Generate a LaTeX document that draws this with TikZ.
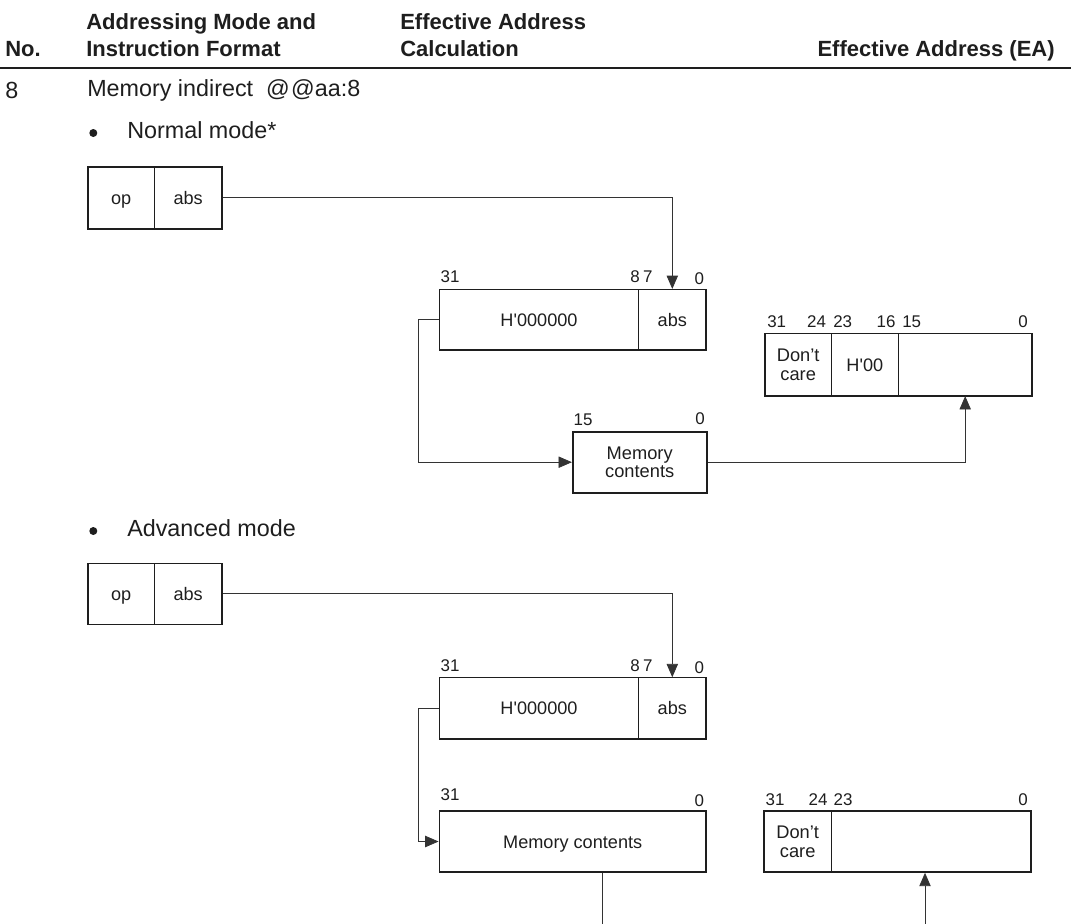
\documentclass[tikz,border=0pt]{standalone}
\usepackage{fontspec}
\setmainfont{Liberation Sans}[Ligatures=TeXOff]
\usetikzlibrary{arrows.meta}
\definecolor{ink}{HTML}{1E1E1E}
\definecolor{wire}{HTML}{333333}
\begin{document}
\begin{tikzpicture}[x=0.75pt,y=-0.75pt,
  hdr/.style={font=\bfseries\fontsize{16.5}{19}\selectfont, inner sep=0pt, anchor=base west, text=ink},
  body/.style={font=\fontsize{17.5}{20}\selectfont, inner sep=0pt, anchor=west, text=ink},
  cell/.style={draw=ink, line width=0.6pt, inner sep=0pt, font=\fontsize{13.6}{15}\selectfont, text height=9.8pt, text depth=0pt, text=ink},
  twoline/.style={draw=ink, line width=0.6pt, inner sep=0pt, font=\fontsize{13.7}{14.3}\selectfont, align=center, text=ink},
  outer/.style={draw=ink, line width=1.2pt, inner sep=0pt},
  bit/.style={font=\fontsize{12.7}{14}\selectfont, inner sep=0pt, text=ink},
  dot/.style={circle, fill=ink, inner sep=0pt, minimum size=6pt},
  wireline/.style={draw=wire, line width=0.6pt},
  arr/.style={wireline, -{Triangle[length=10pt,width=8.5pt]}}
]
\useasboundingbox (0,0) rectangle (1071,924);

% header
\node[hdr] (hno) at (5,57) {No.};
\node[hdr] (hmode1) at (86,30) {Addressing Mode and};
\node[hdr] (hmode2) at (86,57) {Instruction Format};
\node[hdr] (hcalc1) at (400,30) {Effective Address};
\node[hdr] (hcalc2) at (400,57) {Calculation};
\node[hdr, anchor=base east] (hea) at (1055,57) {Effective Address (EA)};
\draw[ink, line width=1.5pt] (0,68) coordinate (rl) -- (1071,68) coordinate (rr);

\node[body] (num) at (5,90) {8};
\node[body] (title) at (87,90) {Memory indirect\ \ @\kern1pt@aa:8};
\node[dot] (b1) at (93.3,133) {};
\node[body] (nmode) at (127,130) {Normal mode*};
\node[dot] (b2) at (93.3,531) {};
\node[body] (amode) at (127,528) {Advanced mode};

% ---------- Normal mode ----------
\node[cell, minimum width=67*0.75pt, minimum height=62*0.75pt] (op1) at (121.2,197.7) {op};
\node[cell, minimum width=67*0.75pt, minimum height=62*0.75pt] (abs1) at (188.2,197.7) {abs};
\node[outer, minimum width=134*0.75pt, minimum height=62*0.75pt] (ins1) at (154.7,197.7) {};

\node[cell, minimum width=199.4*0.75pt, minimum height=60.7*0.75pt] (r1h) at (539,319.7) {H'000000};
\node[cell, minimum width=67.3*0.75pt, minimum height=60.7*0.75pt] (r1a) at (672.3,319.7) {abs};
\node[outer, minimum width=266.7*0.75pt, minimum height=60.7*0.75pt] (r1) at (572.7,319.7) {};
\node[bit] (r1l31) at (450,277) {31};
\node[bit] (r1l87) at (641.5,277) {8\kern2.5pt7};
\node[bit] (r1l0) at (699.3,278.5) {0};

\node[outer, minimum width=134*0.75pt, minimum height=61*0.75pt, font=\fontsize{13.7}{14}\selectfont, align=center, text=ink] (mc1) at (639.7,462.2) {Memory\\contents};
\node[bit] (mc1l15) at (583,420) {15};
\node[bit] (mc1l0) at (700,419) {0};

\node[twoline, minimum width=66.3*0.75pt, minimum height=62.4*0.75pt] (e1a) at (798.2,364.5) {Don’t\\care};
\node[cell, minimum width=67*0.75pt, minimum height=62.4*0.75pt] (e1b) at (864.8,364.5) {H'00};
\node[cell, minimum width=133.7*0.75pt, minimum height=62.4*0.75pt] (e1c) at (965.2,364.5) {};
\node[outer, minimum width=267*0.75pt, minimum height=62.4*0.75pt] (e1) at (898.5,364.5) {};
\node[bit] (e1l31) at (776.7,322) {31};
\node[bit] (e1l24) at (816.5,322) {24};
\node[bit] (e1l23) at (842.7,322) {23};
\node[bit] (e1l16) at (886,322) {16};
\node[bit] (e1l15) at (911.7,322) {15};
\node[bit] (e1l0) at (1023,322) {0};

\draw[arr] (ins1.east) -| (r1a.north);
\draw[arr] (r1.west) -- ++(-20,0) |- (mc1.west);
\draw[arr] (mc1.east) -| (e1c.south);

% ---------- Advanced mode ----------
\node[cell, minimum width=67*0.75pt, minimum height=61*0.75pt] (op2) at (121.2,593.8) {op};
\node[cell, minimum width=67*0.75pt, minimum height=61*0.75pt] (abs2) at (188.2,593.8) {abs};
\node[outer, minimum width=134*0.75pt, minimum height=61*0.75pt] (ins2) at (154.7,593.8) {};

\node[cell, minimum width=199.4*0.75pt, minimum height=61.3*0.75pt] (r2h) at (539,708.3) {H'000000};
\node[cell, minimum width=67.3*0.75pt, minimum height=61.3*0.75pt] (r2a) at (672.3,708.3) {abs};
\node[outer, minimum width=266.7*0.75pt, minimum height=61.3*0.75pt] (r2) at (572.7,708.3) {};
\node[bit] (r2l31) at (450,666) {31};
\node[bit] (r2l87) at (641.5,666) {8\kern2.5pt7};
\node[bit] (r2l0) at (699.3,667.5) {0};

\node[outer, minimum width=266.7*0.75pt, minimum height=61*0.75pt, font=\fontsize{13.6}{15}\selectfont, text height=9.8pt, text depth=0pt, text=ink] (mc2) at (572.7,841.5) {Memory contents};
\node[bit] (mc2l31) at (450,795) {31};
\node[bit] (mc2l0) at (699.3,800.7) {0};

\node[twoline, minimum width=67.3*0.75pt, minimum height=61*0.75pt] (e2a) at (797.7,841.5) {Don’t\\care};
\node[cell, minimum width=199.7*0.75pt, minimum height=61*0.75pt] (e2b) at (931.2,841.5) {};
\node[outer, minimum width=267*0.75pt, minimum height=61*0.75pt] (e2) at (897.5,841.5) {};
\node[bit] (e2l31) at (775,799.3) {31};
\node[bit] (e2l24) at (818,799.3) {24};
\node[bit] (e2l23) at (843,799.3) {23};
\node[bit] (e2l0) at (1023,799.3) {0};

\coordinate (bot1) at (602.7,924);
\coordinate (bot2) at (925,924);
\draw[arr] (ins2.east) -| (r2a.north);
\draw[arr] (r2.west) -- ++(-20,0) |- (mc2.west);
\draw[wireline] (mc2.south -| bot1) -- (bot1);
\draw[arr] (bot2) -- (bot2 |- e2.south);
\end{tikzpicture}
\end{document}
